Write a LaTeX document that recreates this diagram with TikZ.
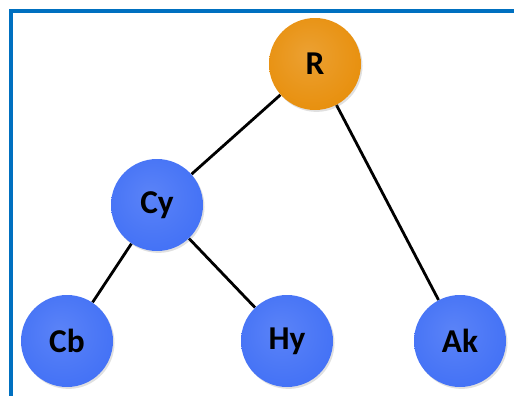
\documentclass[tikz,border=0pt]{standalone}
\usepackage{fontspec}
\setsansfont{Carlito}
\usetikzlibrary{shadows, backgrounds}
\definecolor{rootbg}{HTML}{E8900E}
\definecolor{rootrim}{HTML}{C97808}
\definecolor{leafbg}{HTML}{4472F6}
\definecolor{leafrim}{HTML}{2D56D6}
\definecolor{framecol}{HTML}{0070C0}
\pgfdeclareradialshading{rootshade}{\pgfpoint{-4bp}{6bp}}{%
    color(0bp)=(rootbg!85!white); color(28bp)=(rootbg); color(44bp)=(rootbg!92!black); color(50bp)=(rootrim)}
\pgfdeclareradialshading{leafshade}{\pgfpoint{-4bp}{6bp}}{%
    color(0bp)=(leafbg!88!white); color(28bp)=(leafbg); color(44bp)=(leafbg!92!black); color(50bp)=(leafrim)}
\begin{document}
\begin{tikzpicture}[
    x=0.75pt, y=-0.75pt,
    % 1. 树节点圆球
    ball/.style={
        circle,
        draw=none,
        minimum size=69pt,
        inner sep=0pt,
        font=\sffamily\bfseries\fontsize{25}{28}\selectfont,
        text=black,
        drop shadow={shadow xshift=0.04cm, shadow yshift=-0.05cm, fill=black!60, opacity=0.2}
    },
    rootball/.style={ball, shading=rootshade},
    leafball/.style={ball, shading=leafshade},
    % 连线样式
    edge/.style={
        line width=2.1pt,
        draw=black
    }
]

    \useasboundingbox (0,0) rectangle (514,396);

    % --- 1. 外框 ---
    \draw[framecol, line width=2.3pt] (11,396) -- (11,11) -- (514,11);

    % --- 2. 节点绘制 ---
    \node[rootball] (root) at (315,64) {R};
    \node[leafball] (cy) at (157,205) {Cy};
    \node[leafball] (cb) at (67,341) {Cb};
    \node[leafball] (hy) at (287,341) {Hy};
    \node[leafball] (ak) at (460,341) {Ak};

    % --- 3. 连线 ---
    \begin{scope}[on background layer]
        \draw[edge] (root) -- (cy);
        \draw[edge] (root) -- (ak);
        \draw[edge] (cy) -- (cb);
        \draw[edge] (cy) -- (hy);
    \end{scope}

\end{tikzpicture}
\end{document}
